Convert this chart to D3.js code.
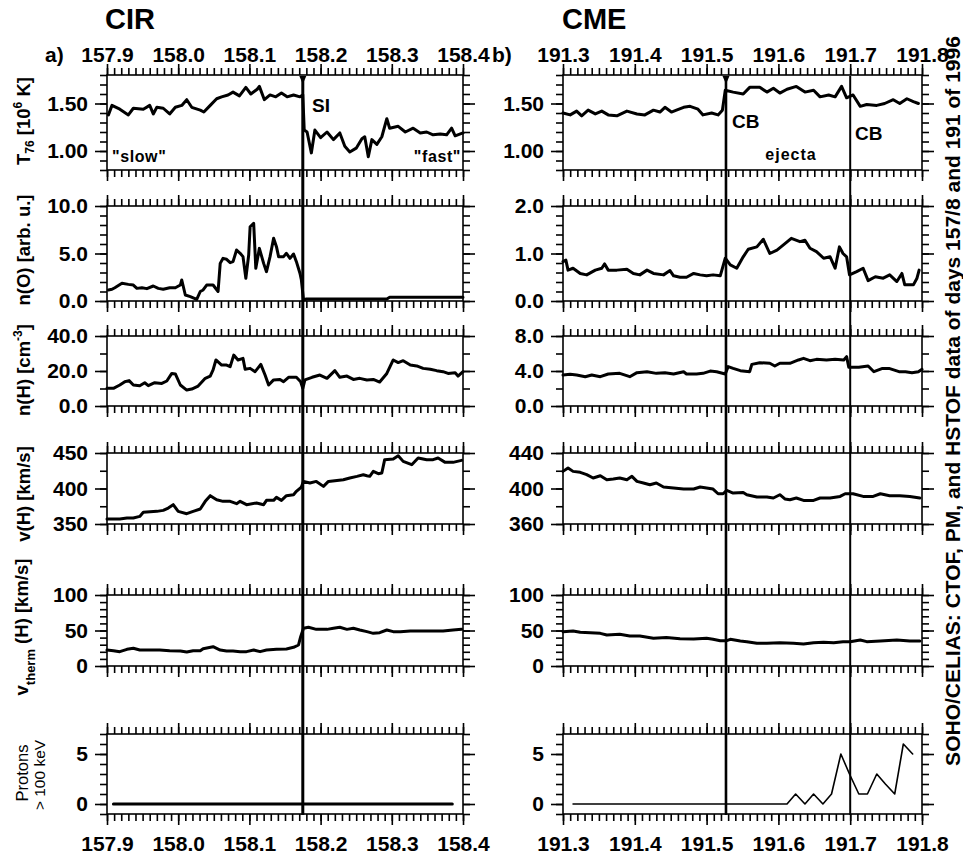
<!DOCTYPE html>
<html>
<head>
<meta charset="utf-8">
<script src="https://cdn.jsdelivr.net/npm/d3@7"></script>
<style>
  html, body { margin: 0; padding: 0; background: #fff; }
  svg { display: block; }
  text { font-family: "Liberation Sans", Arial, Helvetica, sans-serif; fill: #000; }
</style>
</head>
<body>
<svg id="chart" width="963" height="858"></svg>
<script>
// ---- time axes (day of year 1996) ----
const cirDays = [157.9, 158.4];
const cmeDays = [191.3, 191.8];
const cirDayTicks = [157.9, 158.0, 158.1, 158.2, 158.3, 158.4];
const cmeDayTicks = [191.3, 191.4, 191.5, 191.6, 191.7, 191.8];
const cirBoundaries = [158.175];          // stream interface (SI)
const cmeBoundaries = [191.527, 191.700]; // CME boundaries (CB)

// ---- T76 [10^6 K] ----
const tempCIR = [[157.902,1.38],[157.907,1.48],[157.918,1.44],[157.930,1.38],[157.937,1.45],[157.951,1.44],[157.960,1.48],[157.965,1.39],[157.970,1.46],[157.979,1.45],[157.988,1.39],[157.996,1.46],[158.005,1.48],[158.012,1.54],[158.019,1.46],[158.031,1.43],[158.036,1.41],[158.045,1.48],[158.054,1.55],[158.061,1.57],[158.070,1.59],[158.077,1.62],[158.086,1.58],[158.095,1.67],[158.102,1.60],[158.111,1.65],[158.114,1.68],[158.121,1.54],[158.129,1.59],[158.137,1.57],[158.145,1.61],[158.153,1.57],[158.162,1.59],[158.171,1.57],[158.175,1.59],[158.177,1.22],[158.181,1.20],[158.187,0.98],[158.192,1.22],[158.200,1.14],[158.209,1.20],[158.218,1.12],[158.227,1.19],[158.234,1.05],[158.241,0.99],[158.250,1.03],[158.258,1.13],[158.262,1.15],[158.267,0.94],[158.272,1.12],[158.279,1.07],[158.286,1.15],[158.293,1.34],[158.297,1.24],[158.309,1.26],[158.319,1.20],[158.330,1.24],[158.340,1.19],[158.349,1.20],[158.358,1.17],[158.368,1.18],[158.377,1.17],[158.384,1.24],[158.389,1.16],[158.400,1.19]];
const tempCME = [[191.300,1.40],[191.310,1.38],[191.319,1.42],[191.326,1.37],[191.335,1.43],[191.345,1.39],[191.354,1.42],[191.363,1.38],[191.375,1.37],[191.389,1.42],[191.403,1.39],[191.414,1.38],[191.426,1.43],[191.435,1.41],[191.442,1.46],[191.451,1.41],[191.458,1.43],[191.468,1.46],[191.477,1.47],[191.488,1.44],[191.495,1.38],[191.507,1.40],[191.516,1.38],[191.522,1.43],[191.526,1.64],[191.537,1.62],[191.551,1.60],[191.560,1.67],[191.574,1.67],[191.584,1.62],[191.593,1.66],[191.602,1.61],[191.612,1.65],[191.625,1.68],[191.637,1.62],[191.649,1.64],[191.658,1.57],[191.670,1.59],[191.679,1.57],[191.688,1.68],[191.695,1.56],[191.704,1.59],[191.714,1.47],[191.723,1.49],[191.737,1.48],[191.748,1.50],[191.760,1.54],[191.769,1.50],[191.779,1.55],[191.788,1.52],[191.795,1.50]];

// ---- n(O) [arb. u.] ----
const oxyCIR = [[157.902,1.16],[157.907,1.23],[157.911,1.40],[157.921,1.86],[157.930,1.75],[157.937,1.68],[157.942,1.33],[157.949,1.40],[157.956,1.30],[157.965,1.58],[157.972,1.33],[157.979,1.23],[157.988,1.40],[157.996,1.40],[158.003,1.68],[158.005,2.21],[158.010,0.63],[158.017,0.46],[158.026,0.18],[158.031,1.00],[158.035,1.16],[158.040,1.68],[158.049,1.68],[158.056,1.00],[158.059,3.96],[158.063,4.49],[158.068,4.39],[158.073,4.04],[158.077,4.14],[158.082,5.37],[158.087,5.02],[158.091,4.67],[158.095,2.39],[158.099,4.84],[158.101,7.82],[158.106,8.18],[158.109,3.44],[158.114,5.54],[158.120,3.96],[158.124,3.09],[158.129,4.67],[158.134,6.60],[158.138,5.72],[158.141,4.67],[158.148,4.67],[158.152,5.02],[158.157,4.49],[158.162,4.95],[158.166,4.14],[158.171,2.92],[158.173,2.21],[158.176,0.11],[158.180,0.21],[158.293,0.21],[158.297,0.39],[158.400,0.39]];
const oxyCME = [[191.300,0.83],[191.304,0.86],[191.307,0.65],[191.314,0.69],[191.324,0.58],[191.333,0.55],[191.345,0.65],[191.354,0.69],[191.358,0.78],[191.363,0.65],[191.375,0.65],[191.389,0.67],[191.398,0.58],[191.407,0.55],[191.417,0.65],[191.426,0.58],[191.440,0.55],[191.449,0.64],[191.454,0.53],[191.463,0.50],[191.472,0.50],[191.482,0.58],[191.491,0.55],[191.500,0.53],[191.509,0.55],[191.519,0.53],[191.526,0.90],[191.533,0.76],[191.542,0.69],[191.551,0.93],[191.558,1.09],[191.570,1.14],[191.579,1.30],[191.588,1.00],[191.598,1.07],[191.607,1.18],[191.618,1.32],[191.630,1.25],[191.637,1.28],[191.644,1.11],[191.653,1.04],[191.663,0.90],[191.672,0.93],[191.679,0.69],[191.685,1.14],[191.690,1.00],[191.695,0.93],[191.699,0.55],[191.709,0.62],[191.718,0.69],[191.725,0.43],[191.735,0.51],[191.746,0.48],[191.755,0.55],[191.765,0.41],[191.772,0.58],[191.776,0.34],[191.788,0.34],[191.793,0.48],[191.796,0.65]];

// ---- n(H) [cm^-3] ----
const hydCIR = [[157.900,10.1],[157.909,10.1],[157.918,12.0],[157.925,13.9],[157.931,14.5],[157.937,12.0],[157.946,11.6],[157.953,13.3],[157.958,11.6],[157.967,13.3],[157.977,12.9],[157.984,14.3],[157.991,18.6],[157.996,18.3],[158.003,12.0],[158.012,9.1],[158.019,9.7],[158.028,11.4],[158.038,15.8],[158.045,17.1],[158.049,20.6],[158.053,26.3],[158.061,23.4],[158.068,23.4],[158.073,22.5],[158.078,29.1],[158.084,26.3],[158.091,27.2],[158.094,21.0],[158.101,21.5],[158.108,19.6],[158.116,23.8],[158.122,17.7],[158.127,12.0],[158.134,14.9],[158.143,15.2],[158.148,13.9],[158.155,16.4],[158.166,16.4],[158.172,13.9],[158.175,10.1],[158.178,14.9],[158.188,16.4],[158.199,17.7],[158.209,15.8],[158.220,20.2],[158.227,16.4],[158.237,17.1],[158.246,15.2],[158.255,15.8],[158.265,14.9],[158.274,15.2],[158.283,13.7],[158.293,18.6],[158.302,26.3],[158.309,24.8],[158.316,25.9],[158.326,23.4],[158.335,22.9],[158.344,21.5],[158.354,21.0],[158.363,20.2],[158.372,19.6],[158.379,18.6],[158.389,19.0],[158.393,17.1],[158.400,19.6]];
const hydCME = [[191.300,3.54],[191.310,3.62],[191.319,3.54],[191.331,3.35],[191.340,3.54],[191.352,3.35],[191.363,3.66],[191.379,3.73],[191.393,3.35],[191.403,3.81],[191.417,3.92],[191.430,3.73],[191.442,3.81],[191.454,3.66],[191.468,3.92],[191.472,3.66],[191.486,3.66],[191.495,3.73],[191.505,3.99],[191.514,3.92],[191.526,3.66],[191.530,4.50],[191.537,4.30],[191.547,4.04],[191.560,3.92],[191.563,4.76],[191.574,4.95],[191.588,4.88],[191.595,4.57],[191.602,4.88],[191.616,4.88],[191.628,5.26],[191.635,5.45],[191.644,5.18],[191.653,5.33],[191.667,5.26],[191.679,5.33],[191.691,5.26],[191.695,5.64],[191.698,4.42],[191.712,4.42],[191.725,4.57],[191.733,3.92],[191.745,4.30],[191.754,4.30],[191.768,3.92],[191.777,3.92],[191.786,3.81],[191.795,3.92],[191.800,4.19]];

// ---- v(H) [km/s] ----
const velCIR = [[157.900,357.0],[157.918,357.0],[157.928,358.4],[157.937,358.4],[157.946,360.7],[157.951,366.4],[157.970,367.8],[157.979,369.2],[157.986,372.5],[157.993,377.2],[158.000,367.8],[158.012,364.5],[158.021,367.8],[158.031,371.1],[158.038,381.9],[158.045,389.9],[158.054,384.2],[158.063,381.9],[158.073,381.9],[158.082,378.6],[158.087,381.9],[158.096,377.2],[158.110,379.6],[158.120,377.2],[158.124,383.3],[158.134,383.3],[158.138,387.5],[158.145,383.3],[158.152,389.9],[158.162,391.3],[158.166,396.0],[158.173,402.1],[158.176,410.0],[158.185,407.7],[158.194,410.0],[158.204,403.0],[158.211,410.0],[158.223,411.4],[158.232,412.4],[158.241,414.8],[158.251,417.1],[158.260,419.4],[158.265,418.0],[158.269,417.1],[158.274,424.1],[158.281,420.8],[158.286,421.8],[158.290,440.6],[158.302,441.5],[158.309,446.2],[158.316,438.2],[158.328,433.5],[158.337,443.0],[158.349,440.6],[158.358,440.6],[158.365,443.0],[158.375,436.8],[158.386,436.8],[158.398,439.6]];
const velCME = [[191.300,419.3],[191.307,423.1],[191.314,419.3],[191.324,418.2],[191.333,415.6],[191.342,411.8],[191.352,414.4],[191.361,409.9],[191.370,410.7],[191.379,411.8],[191.389,409.9],[191.396,413.7],[191.403,408.0],[191.412,406.2],[191.421,404.3],[191.430,406.2],[191.440,401.7],[191.454,400.6],[191.468,399.4],[191.482,399.4],[191.491,401.7],[191.500,400.6],[191.509,399.4],[191.516,394.1],[191.523,394.1],[191.528,397.9],[191.537,394.9],[191.551,395.6],[191.556,393.0],[191.570,390.4],[191.584,390.4],[191.593,389.3],[191.602,393.0],[191.609,388.2],[191.616,387.4],[191.625,389.3],[191.635,386.6],[191.649,386.6],[191.658,389.3],[191.672,389.3],[191.686,391.1],[191.693,394.1],[191.704,394.1],[191.718,391.1],[191.732,391.1],[191.742,394.1],[191.755,391.9],[191.769,391.9],[191.783,391.1],[191.797,389.3]];

// ---- v_therm(H) [km/s] ----
const vthCIR = [[157.900,22.5],[157.909,21.6],[157.918,20.2],[157.928,23.5],[157.937,24.9],[157.946,22.5],[157.960,22.5],[157.974,22.5],[157.988,21.6],[158.003,21.1],[158.012,19.7],[158.021,21.6],[158.031,21.6],[158.035,24.4],[158.049,27.2],[158.059,22.5],[158.068,21.1],[158.077,21.1],[158.087,20.2],[158.096,20.2],[158.106,22.5],[158.115,20.2],[158.124,22.5],[158.138,23.5],[158.152,23.9],[158.162,26.3],[158.169,29.6],[158.172,41.3],[158.176,53.1],[158.183,54.5],[158.194,51.6],[158.209,51.6],[158.218,53.1],[158.227,54.5],[158.237,51.6],[158.246,53.1],[158.255,50.7],[158.265,48.4],[158.274,46.0],[158.283,46.9],[158.293,50.7],[158.302,48.4],[158.312,48.4],[158.326,49.3],[158.340,49.3],[158.358,49.3],[158.372,49.3],[158.386,50.7],[158.398,51.6]];
const vthCME = [[191.300,48.4],[191.314,49.3],[191.324,47.4],[191.338,46.9],[191.352,46.0],[191.361,43.7],[191.379,44.6],[191.393,42.3],[191.407,42.3],[191.426,39.0],[191.444,40.0],[191.463,38.5],[191.482,38.0],[191.500,39.0],[191.509,37.6],[191.519,35.7],[191.528,35.7],[191.533,37.6],[191.547,35.2],[191.556,34.3],[191.570,31.9],[191.584,31.9],[191.602,32.9],[191.621,31.9],[191.635,31.0],[191.649,32.9],[191.663,33.3],[191.677,32.9],[191.690,34.3],[191.700,34.3],[191.714,36.6],[191.723,34.3],[191.742,35.2],[191.765,36.6],[191.783,35.2],[191.797,35.2]];

// ---- Protons > 100 keV (counts) ----
const protCIR = [[157.909,0],[158.385,0]];
const protCME = [[191.314,0],[191.612,0],[191.624,1],[191.637,0],[191.649,1],[191.662,0],[191.674,1],[191.687,5],[191.699,3],[191.712,1],[191.724,1],[191.737,3],[191.749,2],[191.762,1],[191.774,6],[191.787,5]];

// ---- y-axis settings per panel: [domain, labelled ticks, minor step] ----
const tempAxis  = { domain: [0.8, 1.8], major: [1.0, 1.5], minor: 0.1, fmt: ".2f" };
const oxyAxisL  = { domain: [0, 10],    major: [0, 5, 10], minor: 1, fmt: ".1f" };
const oxyAxisR  = { domain: [0, 2],     major: [0, 1, 2],  minor: 0.2, fmt: ".1f" };
const hydAxisL  = { domain: [0, 40],    major: [0, 20, 40], minor: 10, fmt: ".1f" };
const hydAxisR  = { domain: [0, 8],     major: [0, 4, 8],  minor: 2, fmt: ".1f" };
const velAxisL  = { domain: [350, 450], major: [350, 400, 450], minor: 25, fmt: "d" };
const velAxisR  = { domain: [360, 440], major: [360, 400, 440], minor: 20, fmt: "d" };
const vthAxis   = { domain: [0, 100],   major: [0, 50, 100], minor: 10, fmt: "d" };
const protAxis  = { domain: [-1, 7],    major: [0, 5], minor: 1, fmt: "d" };

// ---- layout ----
const FONT = '"Liberation Sans", Arial, Helvetica, sans-serif';
const cirX = d3.scaleLinear().domain(cirDays).range([107, 463]);
const cmeX = d3.scaleLinear().domain(cmeDays).range([563, 922]);
const rows = [
  { top: 75,  bottom: 170, cir: [tempCIR, tempAxis], cme: [tempCME, tempAxis] },
  { top: 206, bottom: 301, cir: [oxyCIR, oxyAxisL],  cme: [oxyCME, oxyAxisR] },
  { top: 336, bottom: 406, cir: [hydCIR, hydAxisL],  cme: [hydCME, hydAxisR] },
  { top: 453, bottom: 524, cir: [velCIR, velAxisL],  cme: [velCME, velAxisR] },
  { top: 595, bottom: 666, cir: [vthCIR, vthAxis],   cme: [vthCME, vthAxis] },
  { top: 734, bottom: 814, cir: [protCIR, protAxis], cme: [protCME, protAxis], thinCME: true }
];

const svg = d3.select("#chart");
svg.append("rect").attr("width", 963).attr("height", 858).attr("fill", "#fff");

function stepTicks(lo, hi, step) {
  const a = Math.ceil(lo / step - 1e-6), b = Math.floor(hi / step + 1e-6);
  return d3.range(a, b + 1).map(k => +(k * step).toFixed(6));
}

function styleAxis(g, size) {
  g.select(".domain").remove();
  g.selectAll("line").attr("stroke", "#000").attr("stroke-width", 1.6);
  g.attr("font-family", FONT).attr("font-size", size).attr("font-weight", "bold");
  g.selectAll("text").attr("fill", "#000");
}

function drawPanel(x, row, rowIndex, side) {
  const [data, ax] = row[side];
  const y = d3.scaleLinear().domain(ax.domain).range([row.bottom, row.top]);
  const [x0, x1] = x.range();
  const g = svg.append("g");

  // x ticks: top and bottom edges
  const xMinor = stepTicks(x.domain()[0], x.domain()[1], 0.01);
  const xMajor = x === cirX ? cirDayTicks : cmeDayTicks;
  const isFirst = rowIndex === 0, isLast = rowIndex === rows.length - 1;
  g.append("g").attr("transform", `translate(0,${row.top})`)
    .call(d3.axisTop(x).tickValues(xMinor).tickSize(7).tickFormat(""))
    .call(a => styleAxis(a, 21));
  g.append("g").attr("transform", `translate(0,${row.top})`)
    .call(d3.axisTop(x).tickValues(xMajor).tickSize(11).tickPadding(2)
      .tickFormat(isFirst ? d3.format(".1f") : ""))
    .call(a => styleAxis(a, 21));
  g.append("g").attr("transform", `translate(0,${row.bottom})`)
    .call(d3.axisBottom(x).tickValues(xMinor).tickSize(7).tickFormat(""))
    .call(a => styleAxis(a, 21));
  g.append("g").attr("transform", `translate(0,${row.bottom})`)
    .call(d3.axisBottom(x).tickValues(xMajor).tickSize(11).tickPadding(11)
      .tickFormat(isLast ? d3.format(".1f") : ""))
    .call(a => styleAxis(a, 21));

  // y ticks: left (labelled) and right
  const yMinor = stepTicks(ax.domain[0], ax.domain[1], ax.minor);
  g.append("g").attr("transform", `translate(${x0},0)`)
    .call(d3.axisLeft(y).tickValues(yMinor).tickSize(7).tickFormat(""))
    .call(a => styleAxis(a, 21));
  g.append("g").attr("transform", `translate(${x0},0)`)
    .call(d3.axisLeft(y).tickValues(ax.major).tickSize(12).tickPadding(7).tickFormat(d3.format(ax.fmt)))
    .call(a => styleAxis(a, 21));
  g.append("g").attr("transform", `translate(${x1},0)`)
    .call(d3.axisRight(y).tickValues(yMinor).tickSize(7).tickFormat(""))
    .call(a => styleAxis(a, 21));
  g.append("g").attr("transform", `translate(${x1},0)`)
    .call(d3.axisRight(y).tickValues(ax.major).tickSize(12).tickFormat(""))
    .call(a => styleAxis(a, 21));

  // frame
  g.append("rect").attr("x", x0).attr("y", row.top)
    .attr("width", x1 - x0).attr("height", row.bottom - row.top)
    .attr("fill", "none").attr("stroke", "#000").attr("stroke-width", 1.6);

  // data trace
  const thin = side === "cme" && row.thinCME;
  g.append("path").datum(data)
    .attr("d", d3.line().x(d => x(d[0])).y(d => y(d[1])))
    .attr("fill", "none").attr("stroke", "#000")
    .attr("stroke-width", thin ? 1.6 : 3)
    .attr("stroke-linejoin", "round").attr("stroke-linecap", "round");
}

rows.forEach((row, i) => { drawPanel(cirX, row, i, "cir"); drawPanel(cmeX, row, i, "cme"); });

// boundary markers spanning all panels
function boundary(x, t, width, arrow) {
  const px = x(t);
  svg.append("line").attr("x1", px).attr("x2", px).attr("y1", 76).attr("y2", 815)
    .attr("stroke", "#000").attr("stroke-width", width);
  if (arrow) {
    svg.append("path").attr("d", `M${px - 3.5},76 L${px + 3.5},76 L${px},84 Z`).attr("fill", "#000");
  }
}
boundary(cirX, cirBoundaries[0], 3, true);
boundary(cmeX, cmeBoundaries[0], 2.6, true);
boundary(cmeX, cmeBoundaries[1], 2, false);

// titles and panel letters
function txt(x, y, s, size, weight, anchor, extra) {
  const t = svg.append("text").attr("x", x).attr("y", y).text(s)
    .attr("font-family", FONT).attr("font-size", size).attr("font-weight", weight || "bold")
    .attr("text-anchor", anchor || "start");
  if (extra) extra(t);
  return t;
}
txt(105, 29, "CIR", 29);
txt(562, 29, "CME", 29);
txt(45, 62, "a)", 21);
txt(492, 62, "b)", 21);

// annotations
txt(312, 112, "SI", 19);
txt(112, 162, "\"slow\"", 16, "bold", "start", t => t.attr("letter-spacing", 0.6));
txt(461, 162, "\"fast\"", 16, "bold", "end", t => t.attr("letter-spacing", 0.6));
txt(732, 128, "CB", 19);
txt(855, 140, "CB", 19);
txt(791, 160, "ejecta", 16, "bold", "middle", t => t.attr("letter-spacing", 1));

// rotated y-axis labels
function vlabel(x, y, size, weight, build) {
  const t = svg.append("text").attr("transform", `translate(${x},${y}) rotate(-90)`)
    .attr("text-anchor", "middle").attr("font-family", FONT)
    .attr("font-size", size).attr("font-weight", weight);
  build(t);
  return t;
}
vlabel(30, 121, 18.5, "bold", t => {
  t.append("tspan").text("T");
  t.append("tspan").text("76").attr("font-size", 12).attr("dy", 4);
  t.append("tspan").text(" [10").attr("dy", -4);
  t.append("tspan").text("6").attr("font-size", 12).attr("dy", -8);
  t.append("tspan").text(" K]").attr("dy", 8);
});
vlabel(30, 250, 18.5, "bold", t => t.text("n(O) [arb. u.]"));
vlabel(30, 370, 18.5, "bold", t => {
  t.append("tspan").text("n(H) [cm");
  t.append("tspan").text("-3").attr("font-size", 12).attr("dy", -8);
  t.append("tspan").text("]").attr("dy", 8);
});
vlabel(30, 494, 18.5, "bold", t => t.text("v(H) [km/s]"));
vlabel(28, 627, 18.5, "bold", t => {
  t.append("tspan").text("v");
  t.append("tspan").text("therm").attr("font-size", 13).attr("dy", 7);
  t.append("tspan").text(" (H) [km/s]").attr("dy", -7);
});
vlabel(28, 773, 16.5, "normal", t => t.text("Protons"));
vlabel(45, 775, 15.5, "normal", t => t.text("> 100 keV"));

// data source caption on the right edge
vlabel(960, 401, 21, "bold", t => t.text("SOHO/CELIAS: CTOF, PM, and HSTOF data of days 157/8 and 191 of 1996"));
</script>
</body>
</html>
